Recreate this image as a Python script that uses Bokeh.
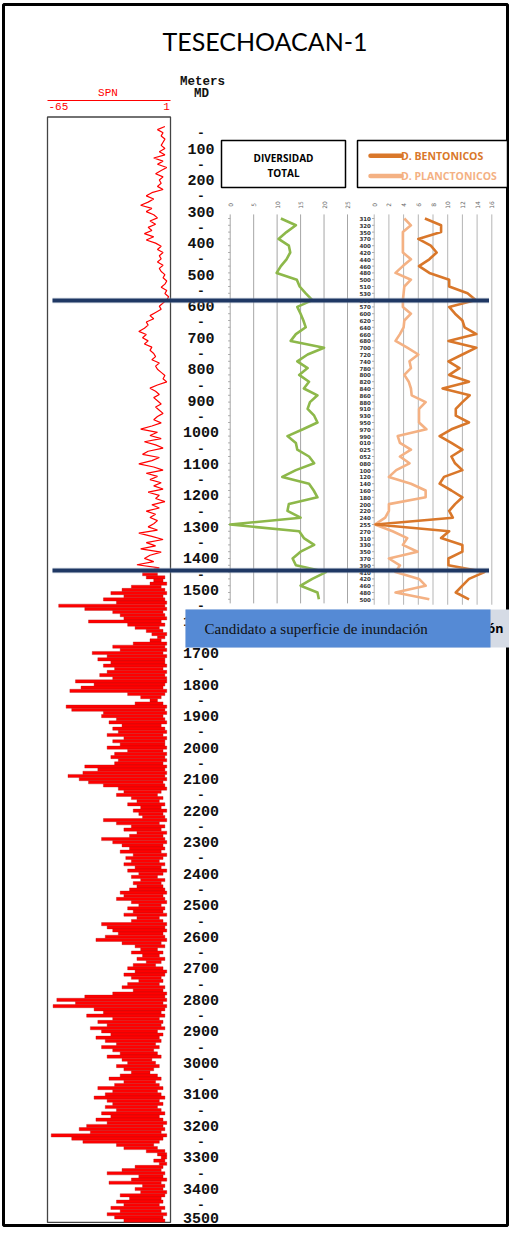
import numpy as np
from bokeh.plotting import figure
from bokeh.models import Range1d
from bokeh.core.properties import value
from bokeh.embed import file_html
from bokeh.resources import INLINE

# ---------------- data ----------------
TITLE = "TESECHOACAN-1"

spn_step = 10
spn_upper_top = 30      # first depth (m) of the upper SPN curve
spn_upper = [
    -2, -6, -3, -4, -2, -3, -4, -2,
    -5, -2, -8, -3, -6, -1, -4, -7, -3, -5,
    -4, -6, -3, -9, -12, -8, -11, -15, -9, -12,
    -8, -6, -10, -7, -11, -9, -13, -8, -12, -7,
    -4, -6, -3, -5, -4, -6, -3, -5, -4, -2,
    -3, -1, -2, -4, -1, -2, 0, -1, -3, -5,
    -4, -7, -10, -8, -12, -11, -13, -16, -12, -14,
    -11, -13, -9, -10, -8, -7, -9, -5, -7, -6,
    -4, -2, -3, -1, -6, -10, -7, -5, -8, -6,
    -4, -7, -5, -3, -6, -8, -4, -9, -15, -6,
    -10, -4, -13, -7, -3, -11, -14, -5, -9, -16,
    -8, -3, -12, -6, -10, -4, -8, -3, -11, -5,
    -7, -2, -9, -5, -12, -7, -10, -6, -8, -11,
    -6, -16, -9, -3, -12, -7, -15, -4, -10, -13,
    -8, -17, -5, -11,
]

spn_lower_top = 1450    # first depth (m) of the lower, strongly deflected SPN section
spn_lower_left = [
    -14, -12, -8, -10, -20, -25, -31, -24, -35, -28,
    -59, -45, -30, -26, -24, -43, -22, -18, -12, -9,
    -6, -10, -19, -30, -26, -41, -33, -38, -31, -35,
    -29, -33, -37, -30, -50, -40, -47, -53, -22, -15,
    -10, -18, -55, -52, -35, -36, -28, -32, -25, -30,
    -27, -33, -24, -30, -26, -33, -22, -29, -31, -27,
    -29, -45, -38, -46, -54, -48, -43, -35, -27, -24,
    -28, -20, -17, -22, -15, -19, -16, -14, -35, -28,
    -20, -24, -17, -21, -36, -30, -25, -21, -26, -19,
    -23, -20, -24, -18, -22, -16, -20, -15, -19, -17,
    -21, -26, -24, -28, -20, -16, -22, -19, -24, -17,
    -20, -36, -33, -30, -27, -34, -39, -25, -18, -15,
    -20, -14, -17, -12, -19, -22, -18, -24, -20, -16,
    -22, -25, -19, -30, -45, -60, -50, -62, -40, -35,
    -44, -30, -38, -33, -42, -36, -31, -39, -34, -28,
    -36, -30, -26, -33, -25, -22, -28, -24, -20, -26,
    -32, -24, -29, -38, -30, -34, -40, -33, -30, -34,
    -28, -36, -31, -39, -33, -44, -48, -42, -63, -52,
    -46, -28, -24, -12, -6, -4, -8, -5, -18, -25,
    -33, -16, -20, -32, -14, -18, -15, -26, -21, -28,
    -24, -31, -26, -33, -29, -24,
]
spn_lower_right = [
    -6, -2, -3, -1, -4, -2, -1, -3, -2, -1,
    -2, -1, -3, -2, -1, -4, -2, -5, -3, -1,
    -2, -4, -1, -2, -1, -3, -1, -2, -2, -1,
    -3, -1, -2, -1, -1, -2, -3, -1, -2, -4,
    -6, -3, -1, -2, -1, -3, -2, -1, -4, -2,
    -1, -3, -1, -2, -2, -1, -3, -1, -2, -1,
    -3, -1, -2, -1, -2, -1, -3, -2, -1, -4,
    -6, -3, -5, -2, -4, -1, -3, -2, -1, -5,
    -2, -4, -1, -3, -2, -1, -3, -2, -4, -1,
    -3, -5, -2, -4, -1, -3, -6, -2, -4, -3,
    -2, -1, -3, -2, -1, -4, -2, -3, -1, -5,
    -3, -1, -2, -1, -3, -2, -1, -4, -2, -6,
    -3, -5, -2, -4, -7, -3, -1, -2, -4, -3,
    -5, -2, -3, -1, -2, -1, -3, -1, -2, -4,
    -2, -5, -3, -4, -2, -6, -3, -5, -4, -7,
    -5, -8, -6, -4, -9, -7, -5, -8, -10, -6,
    -4, -7, -5, -3, -6, -4, -2, -5, -3, -6,
    -4, -2, -5, -3, -1, -3, -2, -4, -1, -3,
    -5, -8, -6, -2, -1, -1, -2, -1, -3, -4,
    -2, -3, -1, -4, -2, -3, -1, -2, -4, -3,
    -5, -2, -4, -1, -3, -2,
]
spn_min, spn_max = -65, 1

depth_labels = list(range(100, 3501, 100))
depth_dashes = list(range(50, 3451, 100))
log_bottom = 3506

surface_depths = [582, 1438]   # candidate flooding surfaces (m)

sample_labels = ["310", "320", "350", "370", "400", "420", "440", "460", "480", "500",
                 "510", "530", "550", "570", "600", "620", "640", "660", "680", "700",
                 "720", "740", "780", "800", "820", "840", "860", "880", "910", "930",
                 "950", "970", "990", "010", "025", "052", "080", "100", "120", "140",
                 "160", "180", "200", "220", "240", "255", "270", "310", "330", "350",
                 "370", "390", "410", "420", "460", "480", "500"]
diversidad = [10.8, 14.0, 12.0, 10.3, 12.5, 12.8, 12.0, 10.8, 9.9, 14.2,
              14.8, 16.1, 17.5, 14.3, 15.0, 15.6, 16.1, 14.0, 12.9, 20.0,
              16.5, 14.3, 16.5, 14.7, 16.8, 15.7, 18.6, 17.0, 16.5, 17.9,
              18.6, 15.5, 12.2, 14.0, 14.3, 16.8, 17.9, 14.0, 11.1, 16.8,
              17.8, 18.6, 12.5, 12.2, 15.0, 0.0, 14.7, 15.7, 17.9, 15.0,
              13.3, 14.0, 20.4, 17.5, 15.0, 18.6, 18.9]
bentonicos = [6.9, 9.1, 9.1, 6.0, 7.7, 8.5, 7.5, 6.1, 7.5, 10.2,
              10.2, 12.7, 13.8, 10.2, 11.0, 12.0, 12.3, 13.9, 10.1, 13.9,
              12.0, 10.1, 11.6, 10.2, 12.9, 9.3, 13.0, 12.0, 11.1, 11.1,
              12.9, 10.5, 8.9, 10.5, 12.0, 10.5, 11.0, 12.0, 9.5, 8.9,
              10.5, 12.0, 11.0, 10.2, 10.7, 0.2, 10.2, 9.1, 12.0, 12.0,
              10.1, 10.1, 15.0, 12.9, 12.0, 11.1, 12.9]
planctonicos = [4.1, 5.0, 3.9, 3.9, 3.9, 3.9, 5.0, 3.9, 2.9, 5.0,
                4.1, 4.0, 3.9, 3.9, 5.0, 4.1, 4.0, 3.5, 2.9, 4.5,
                6.0, 4.8, 5.0, 4.1, 4.7, 5.0, 5.1, 7.0, 6.1, 6.1,
                6.1, 7.1, 3.2, 3.5, 5.0, 3.5, 4.8, 3.0, 2.0, 5.0,
                7.0, 7.0, 2.0, 2.0, 1.5, 0.1, 2.5, 4.5, 3.9, 5.9,
                2.0, 3.5, 2.9, 6.1, 7.0, 2.9, 7.5]
div_ticks = [0, 5, 10, 15, 20, 25]
bent_ticks = [0, 2, 4, 6, 8, 10, 12, 14, 16]

# ---------------- layout ----------------
W, H = 509, 1227
DEPTH0_Y, PX_PER_M = 116.5, 0.3153
SPN_L_X, SPN_R_X = 47.0, 170.0
DIV0_X, DIV25_X = 229.7, 347.0
BENT0_X, BENT16_X = 373.7, 491.3
SMP0_Y, SMP_DY = 218.0, 6.8

RED = "#FF0000"
GREEN = "#8DB84A"
BENT_C = "#D9772A"
PLAN_C = "#F4B183"
NAVY = "#1F3864"


def rng(px_a, v_a, px_b, v_b, n, flip=False):
    k = (px_b - px_a) / (v_b - v_a)
    f = lambda px: v_a + (px - px_a) / k
    return Range1d(start=f(n), end=f(0)) if flip else Range1d(start=f(0), end=f(n))


p = figure(width=W, height=H, x_range=Range1d(start=0, end=W), y_range=Range1d(start=H, end=0),
           x_axis_type=None, y_axis_type=None, output_backend="svg", toolbar_location=None,
           min_border=0, outline_line_color=None, background_fill_color="white",
           border_fill_color="white")
p.grid.visible = False
p.extra_x_ranges = {
    "spn": rng(SPN_L_X, spn_min, SPN_R_X, spn_max, W),
    "div": rng(DIV0_X, 0, DIV25_X, 25, W),
    "bent": rng(BENT0_X, 0, BENT16_X, 16, W),
}
p.extra_y_ranges = {
    "depth": rng(DEPTH0_Y, 0, DEPTH0_Y + 3500 * PX_PER_M, 3500, H, flip=True),
    "smp": rng(SMP0_Y, 0, SMP0_Y + 56 * SMP_DY, 56, H, flip=True),
}

# outer frame
p.quad(left=[3], right=[507], top=[4], bottom=[1225], fill_color=None,
       line_color="black", line_width=3)

# title
p.text(x=[264.5], y=[40], text=[TITLE], text_font=value("Lato"), text_font_size="25px",
       text_align="center", text_baseline="middle", text_color="black")

# ---- SPN track ----
p.text(x=[107.5], y=[92], text=["SPN"], text_font=value("Liberation Mono"),
       text_font_size="11px", text_align="center", text_baseline="middle", text_color=RED)
p.segment(x0=[spn_min], x1=[spn_max], y0=[100], y1=[100], x_range_name="spn",
          line_color=RED, line_width=1.2)
p.text(x=[spn_min + 0.5], y=[105.5], text=[str(spn_min)], x_range_name="spn",
       text_font=value("Liberation Mono"), text_font_size="11px", text_align="left",
       text_baseline="middle", text_color=RED)
p.text(x=[spn_max - 0.3], y=[105.5], text=[str(spn_max)], x_range_name="spn",
       text_font=value("Liberation Mono"), text_font_size="11px", text_align="right",
       text_baseline="middle", text_color=RED)
p.quad(left=[spn_min], right=[spn_max], top=[0], bottom=[log_bottom], x_range_name="spn",
       y_range_name="depth", fill_color=None, line_color="#444444", line_width=1.3)

depth_upper = spn_upper_top + spn_step * np.arange(len(spn_upper))
p.line(x=spn_upper, y=depth_upper, x_range_name="spn", y_range_name="depth",
       line_color=RED, line_width=1.2)
n_low = min(len(spn_lower_left), len(spn_lower_right))
depth_lower = spn_lower_top + spn_step * np.arange(n_low)
p.hbar(y=depth_lower, left=spn_lower_left[:n_low], right=spn_lower_right[:n_low],
       height=spn_step, x_range_name="spn", y_range_name="depth",
       fill_color=RED, line_color="#B01010", line_width=0.35)

# depth track labels
p.text(x=[202], y=[81.5], text=["Meters"], text_font=value("Liberation Mono"),
       text_font_size="12.5px", text_font_style="bold", text_align="center",
       text_baseline="middle", text_color="#111111")
p.text(x=[201], y=[93.5], text=["MD"], text_font=value("Liberation Mono"),
       text_font_size="12.5px", text_font_style="bold", text_align="center",
       text_baseline="middle", text_color="#111111")
lab_style = dict(y_range_name="depth", text_font=value("Liberation Mono"),
                 text_font_size="15px", text_font_style="bold", text_align="center",
                 text_baseline="middle", text_color="#111111")
p.text(x=[200.5] * (len(depth_labels) - 1), y=depth_labels[:-1],
       text=[str(d) for d in depth_labels[:-1]], **lab_style)
# last label nudged up so it stays inside the page
p.text(x=[200.5], y=depth_labels[-1:], text=[str(depth_labels[-1])], y_offset=-2.5,
       **lab_style)
p.text(x=[200.5] * len(depth_dashes), y=depth_dashes, text=["-"] * len(depth_dashes),
       y_range_name="depth", text_font=value("Liberation Mono"), text_font_size="13px",
       text_font_style="bold", text_align="center", text_baseline="middle",
       text_color="#111111")

# ---- header boxes ----
p.quad(left=[221], right=[345], top=[140], bottom=[187], fill_color="white",
       line_color="black", line_width=1.5)
p.text(x=[283, 283], y=[157, 172], text=["DIVERSIDAD", "TOTAL"], text_font=value("Open Sans"),
       text_font_size="10px", text_font_style="bold", text_align="center",
       text_baseline="middle", text_color="black")
p.quad(left=[357], right=[507], top=[140], bottom=[187], fill_color="white",
       line_color="black", line_width=1.5)
p.segment(x0=[370, 370], x1=[401, 401], y0=[155.3, 175.5], y1=[155.3, 175.5],
          line_color=[BENT_C, PLAN_C], line_width=4.5, line_cap="round")
p.text(x=[400.5, 400.5], y=[155.3, 175.5], text=["D. BENTONICOS", "D. PLANCTONICOS"],
       text_font=value("Open Sans"), text_font_size="10.5px", text_font_style="bold",
       text_align="left", text_baseline="middle", text_color=[BENT_C, PLAN_C])

# ---- diversity panel ----
n_s = len(sample_labels)
idx = np.arange(n_s)
p.segment(x0=div_ticks, x1=div_ticks, y0=[-0.6] * len(div_ticks), y1=[56.6] * len(div_ticks),
          x_range_name="div", y_range_name="smp", line_color="#A6A6A6", line_width=1)
p.segment(x0=[-0.45] * n_s, x1=[0] * n_s, y0=idx, y1=idx, x_range_name="div",
          y_range_name="smp", line_color="#999999", line_width=0.8)
p.text(x=div_ticks, y=[-2.0] * len(div_ticks), text=[str(t) for t in div_ticks],
       x_range_name="div", y_range_name="smp", angle=np.pi / 2, text_font=value("DejaVu Sans"),
       text_font_size="6px", text_align="center", text_baseline="middle", text_color="#666666")
p.line(x=diversidad, y=np.arange(len(diversidad)), x_range_name="div", y_range_name="smp",
       line_color=GREEN, line_width=2.6, line_join="round")

# ---- bentonicos / planctonicos panel ----
p.segment(x0=bent_ticks, x1=bent_ticks, y0=[-0.6] * len(bent_ticks),
          y1=[56.8] * len(bent_ticks), x_range_name="bent", y_range_name="smp",
          line_color="#B5B5B5", line_width=1)
p.segment(x0=[-0.3] * n_s, x1=[0] * n_s, y0=idx, y1=idx, x_range_name="bent",
          y_range_name="smp", line_color="#999999", line_width=0.8)
p.text(x=bent_ticks, y=[-2.0] * len(bent_ticks), text=[str(t) for t in bent_ticks],
       x_range_name="bent", y_range_name="smp", angle=np.pi / 2, text_font=value("DejaVu Sans"),
       text_font_size="6px", text_align="center", text_baseline="middle", text_color="#666666")
p.text(x=[-0.45] * n_s, y=idx, text=sample_labels, x_range_name="bent", y_range_name="smp",
       text_font=value("DejaVu Sans"), text_font_size="5.5px", text_font_style="bold",
       text_align="right", text_baseline="middle", text_color="#333333")
p.line(x=planctonicos, y=np.arange(len(planctonicos)), x_range_name="bent",
       y_range_name="smp", line_color=PLAN_C, line_width=2.6, line_join="round")
p.line(x=bentonicos, y=np.arange(len(bentonicos)), x_range_name="bent",
       y_range_name="smp", line_color=BENT_C, line_width=2.6, line_join="round")

# ---- candidate flooding surfaces ----
p.segment(x0=[52] * 2, x1=[488.5] * 2, y0=surface_depths, y1=surface_depths,
          y_range_name="depth", line_color="#B0B8C8", line_width=6, line_alpha=0.35)
p.segment(x0=[52] * 2, x1=[488.5] * 2, y0=surface_depths, y1=surface_depths,
          y_range_name="depth", line_color=NAVY, line_width=4)

# ---- note box ----
p.quad(left=[185], right=[509], top=[609], bottom=[647], fill_color="#D5DBE5",
       line_color=None)
p.text(x=[487], y=[628], text=["ón"], text_font=value("Open Sans"), text_font_size="12.5px",
       text_font_style="bold", text_align="left", text_baseline="middle", text_color="black")
p.quad(left=[185], right=[490], top=[609], bottom=[647], fill_color="#558AD5",
       line_color=None)
p.text(x=[204], y=[628], text=["Candidato a superficie de inundación"],
       text_font=value("Liberation Serif"), text_font_size="15px", text_align="left",
       text_baseline="middle", text_color="#111111")

open("out.html", "w").write(file_html(p, INLINE))
